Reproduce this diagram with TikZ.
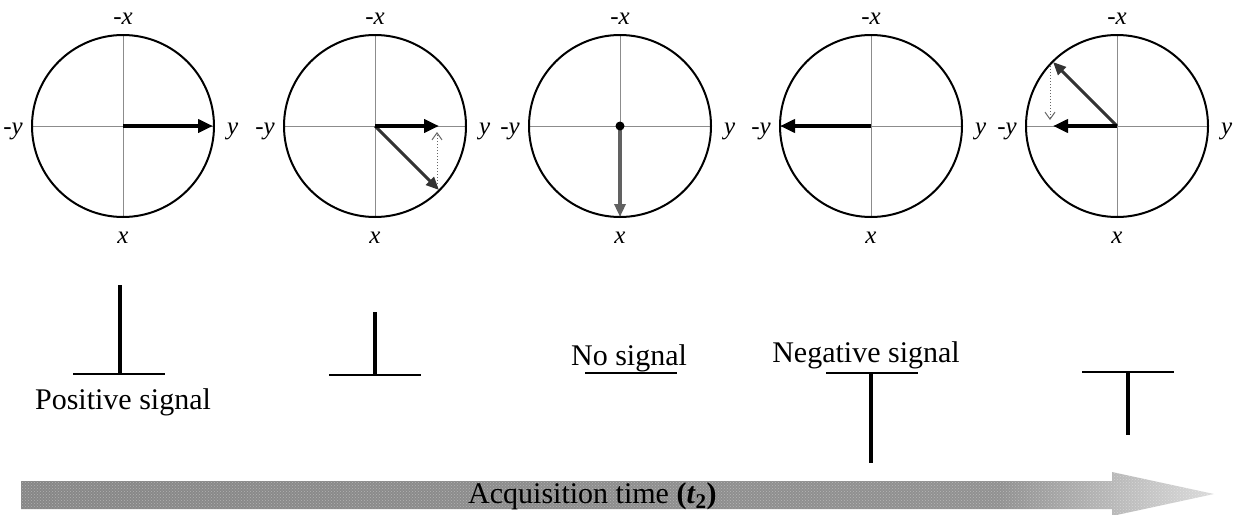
\documentclass[tikz,border=0pt]{standalone}
\usepackage{fontspec}
\setmainfont{Liberation Serif}
\usetikzlibrary{arrows.meta,patterns}
\pgfdeclarehorizontalshading{bandshade}{100bp}{color(0bp)=(black!47); color(25bp)=(black!47); color(66bp)=(black!43); color(75bp)=(black!14); color(100bp)=(black!14)}
\begin{document}
\begin{tikzpicture}[x=1pt,y=-1pt,
  circ/.style={draw=black, line width=2pt},
  axisline/.style={draw=black!45, line width=0.9pt},
  axlab/.style={font=\fontsize{25}{27}\selectfont\itshape, inner sep=0pt},
  vec/.style={draw=black, line width=4.5pt, -{Triangle[length=15pt,width=13pt]}},
  gvec/.style={draw=black!80, line width=3pt, -{Triangle[length=13pt,width=11pt]}},
  zvec/.style={draw=black!62, line width=4pt, -{Triangle[length=13pt,width=11pt]}},
  proj/.style={draw=black!60, line width=1pt, dotted, -{Straight Barb[length=7pt,width=10pt]}},
  basel/.style={draw=black, line width=1.6pt},
  peak/.style={draw=black, line width=4pt},
  lab/.style={font=\fontsize{30}{32}\selectfont, inner sep=0pt}
]
\useasboundingbox (0,0) rectangle (1234,514);

% ---- circles with axes and labels
\foreach \i/\cx in {1/123,2/375,3/620,4/871,5/1117}{
  \coordinate (c\i) at (\cx,126);
  \draw[axisline] ({\cx-91},126) -- ({\cx+91},126);
  \draw[axisline] (\cx,35) -- (\cx,217);
  \draw[circ] (c\i) circle[radius=91];
  \node[axlab, anchor=base] (mx\i) at (\cx,24) {-x};
  \node[axlab, anchor=base] (px\i) at (\cx,243) {x};
  \node[axlab, anchor=base east] (my\i) at ({\cx-100},134) {-y};
  \node[axlab, anchor=base west] (py\i) at ({\cx+104},134) {y};
}

% ---- magnetisation vectors
\coordinate (e1) at (213,126);
\draw[vec] (c1) -- (e1);

\coordinate (e2h) at (439,126);
\coordinate (e2d) at (439,190);
\coordinate (p2a) at (437,187);
\coordinate (p2b) at (437,132);
\draw[gvec] (c2) -- (e2d);
\draw[vec] (c2) -- (e2h);
\draw[proj] (p2a) -- (p2b);

\coordinate (e3) at (620,217);
\draw[zvec] (c3) -- (e3);
\fill[black] (c3) circle[radius=4.5];

\coordinate (e4) at (780,126);
\draw[vec] (c4) -- (e4);

\coordinate (e5h) at (1053,126);
\coordinate (e5d) at (1053,62);
\coordinate (p5a) at (1050,66);
\coordinate (p5b) at (1050,120);
\draw[gvec] (c5) -- (e5d);
\draw[vec] (c5) -- (e5h);
\draw[proj] (p5a) -- (p5b);

% ---- spectra
\draw[basel] (73,374) -- (165,374);
\draw[peak] (120,374) -- (120,285);
\node[lab, anchor=base] (lpos) at (123,409) {Positive signal};

\draw[basel] (329,375) -- (421,375);
\draw[peak] (375,375) -- (375,312);

\draw[basel] (585,373) -- (677,373);
\node[lab, anchor=base] (lno) at (629,365) {No signal};

\draw[basel] (826,373) -- (918,373);
\draw[peak] (871,373) -- (871,463);
\node[lab, anchor=base] (lneg) at (866,362) {Negative signal};

\draw[basel] (1082,372) -- (1174,372);
\draw[peak] (1128,372) -- (1128,435);

% ---- time arrow band
\path[shading=bandshade]
  (21,481) -- (1112,481) -- (1112,472) -- (1214,494) -- (1112,516) -- (1112,509) -- (21,509) -- cycle;
\path[pattern=crosshatch dots, pattern color=white, opacity=0.35]
  (21,481) -- (1112,481) -- (1112,472) -- (1214,494) -- (1112,516) -- (1112,509) -- (21,509) -- cycle;
\node[lab, anchor=base west] (lacq) at (468,503)
  {Acquisition time {\bfseries(\textit{t}\textsubscript{2})}};
\end{tikzpicture}
\end{document}
